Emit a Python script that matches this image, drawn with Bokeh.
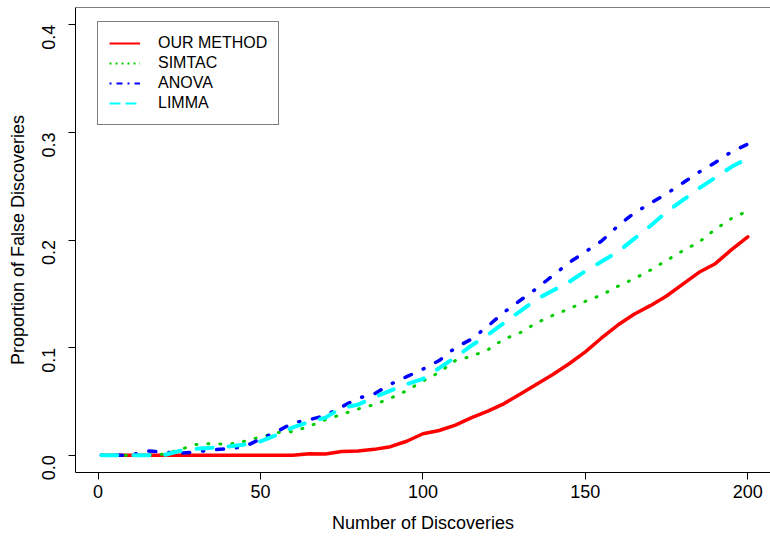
import math
from bokeh.plotting import figure
from bokeh.models import (Range1d, FixedTicker, PrintfTickFormatter, Span,
                          Legend, LegendItem, ColumnDataSource)
from bokeh.embed import file_html
from bokeh.resources import INLINE

# ---- data ----
discoveries = [1, 5, 10, 15, 20, 25, 30, 35, 40, 45, 50, 55, 60, 65, 70, 75, 80,
               85, 90, 95, 100, 105, 110, 115, 120, 125, 130, 135, 140, 145, 150,
               155, 160, 165, 170, 175, 180, 185, 190, 195, 200]

our_method = [0, 0, 0, 0, 0, 0, 0, 0, 0, 0, 0, 0, 0, 0.0015, 0.0012, 0.0035, 0.004,
              0.0055, 0.008, 0.013, 0.020, 0.023, 0.028, 0.035, 0.041, 0.048, 0.057,
              0.066, 0.075, 0.085, 0.096, 0.109, 0.121, 0.131, 0.139, 0.148, 0.159,
              0.170, 0.178, 0.191, 0.203]

simtac = [0, 0, 0, 0, 0.001, 0.005, 0.010, 0.011, 0.010, 0.013, 0.017, 0.021, 0.022,
          0.027, 0.033, 0.038, 0.043, 0.047, 0.053, 0.060, 0.069, 0.077, 0.088, 0.092,
          0.098, 0.108, 0.114, 0.123, 0.130, 0.136, 0.143, 0.149, 0.157, 0.164, 0.172,
          0.181, 0.190, 0.198, 0.210, 0.220, 0.227]

anova = [0, 0, 0, 0.004, 0.003, 0.002, 0.003, 0.005, 0.006, 0.008, 0.015, 0.022,
         0.030, 0.033, 0.037, 0.045, 0.053, 0.057, 0.066, 0.073, 0.080, 0.088, 0.100,
         0.108, 0.120, 0.133, 0.144, 0.155, 0.167, 0.179, 0.189, 0.199, 0.213, 0.225,
         0.234, 0.243, 0.253, 0.263, 0.272, 0.282, 0.289]

limma = [0, 0, 0, 0, 0, 0.004, 0.006, 0.007, 0.008, 0.010, 0.013, 0.019, 0.026,
         0.031, 0.035, 0.044, 0.047, 0.054, 0.060, 0.066, 0.071, 0.081, 0.091, 0.102,
         0.112, 0.123, 0.134, 0.145, 0.153, 0.161, 0.171, 0.180, 0.189, 0.201, 0.213,
         0.226, 0.237, 0.248, 0.258, 0.268, 0.276]

series_names = ["OUR METHOD", "SIMTAC", "ANOVA", "LIMMA"]
x_ticks = [0, 50, 100, 150, 200]
y_ticks = [0.0, 0.1, 0.2, 0.3, 0.4]

FONT = "Liberation Sans"

p = figure(width=770, height=538, output_backend="svg", toolbar_location=None,
           x_range=Range1d(-6.96, 207.0), y_range=Range1d(-0.016, 0.416),
           min_border_left=75, min_border_right=0, min_border_top=7,
           min_border_bottom=66)
p.grid.visible = False
p.outline_line_color = None
p.background_fill_color = "white"
p.border_fill_color = "white"

src = ColumnDataSource(dict(x=discoveries, a=our_method, b=simtac, c=anova, d=limma))

p.line("x", "a", source=src, line_color="#FF0000", line_width=3.5,
       line_join="round", line_cap="round")
p.line("x", "b", source=src, line_color="#00CD00", line_width=3,
       line_dash="1 11", line_cap="round", line_join="round")
p.line("x", "c", source=src, line_color="#0000FF", line_width=3.5,
       line_dash="1 13 7 13", line_cap="round", line_join="round")
p.line("x", "d", source=src, line_color="#00FFFF", line_width=4,
       line_dash="16 16", line_cap="round", line_join="round")

# legend samples (thin, like the reference legend); hidden in the plot area
l1 = p.line("x", "a", source=src, line_color="#FF0000", line_width=2, visible=False)
l2 = p.line("x", "b", source=src, line_color="#00CD00", line_width=2,
            line_dash="2 4", visible=False)
l3 = p.line("x", "c", source=src, line_color="#0000FF", line_width=2,
            line_dash="2 5 6 5", visible=False)
l4 = p.line("x", "d", source=src, line_color="#00FFFF", line_width=2,
            line_dash="11 5", visible=False)

legend = Legend(items=[LegendItem(label=n, renderers=[r])
                       for n, r in zip(series_names, [l1, l2, l3, l4])],
                location=(22, 347), border_line_color="black", border_line_width=1,
                background_fill_color="white", background_fill_alpha=1,
                padding=11, margin=0, spacing=0, glyph_width=31, glyph_height=20,
                label_height=20, label_standoff=18, label_text_font=FONT,
                label_text_font_size="16px", label_text_color="black",
                click_policy="none")
p.add_layout(legend)

# top border of the box
p.add_layout(Span(location=0.416, dimension="width", line_color="black", line_width=1))

p.xaxis.ticker = FixedTicker(ticks=x_ticks)
p.yaxis.ticker = FixedTicker(ticks=y_ticks)
p.yaxis.formatter = PrintfTickFormatter(format="%.1f")
p.yaxis.major_label_orientation = math.pi / 2

for ax in (p.xaxis[0], p.yaxis[0]):
    ax.axis_line_color = "black"
    ax.axis_line_width = 1
    ax.major_tick_line_color = "black"
    ax.major_tick_out = 7
    ax.major_tick_in = 0
    ax.minor_tick_line_color = None
    ax.major_label_text_font = FONT
    ax.major_label_text_font_size = "18px"
    ax.major_label_text_color = "black"
    ax.axis_label_text_font = FONT
    ax.axis_label_text_font_size = "18px"
    ax.axis_label_text_font_style = "normal"
    ax.axis_label_text_color = "black"

p.xaxis.axis_label = "Number of Discoveries"
p.yaxis.axis_label = "Proportion of False Discoveries"
p.xaxis.major_label_standoff = 5
p.xaxis.axis_label_standoff = 12
p.yaxis.major_label_standoff = 20
p.yaxis.axis_label_standoff = 5

open("out.html", "w").write(file_html(p, INLINE))
